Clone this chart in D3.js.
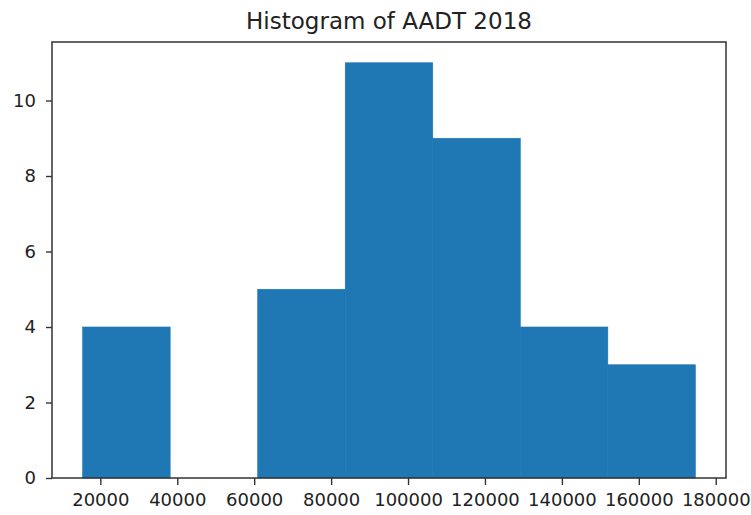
<!DOCTYPE html>
<html>
<head>
<meta charset="utf-8">
<script src="https://cdn.jsdelivr.net/npm/d3@7"></script>
<style>
  html, body { margin: 0; padding: 0; background: #fff; }
  svg { display: block; }
  text { font-family: "DejaVu Sans", sans-serif; fill: #222; }
</style>
</head>
<body>
<svg id="chart" width="751" height="515"></svg>
<script>
// Histogram bins (edges) and the count in each bin
const binEdges = [15400, 38157, 60914, 83671, 106429, 129186, 151943, 174700];
const counts = [4, 0, 5, 11, 9, 4, 3];
const xTicks = [20000, 40000, 60000, 80000, 100000, 120000, 140000, 160000, 180000];
const yTicks = [0, 2, 4, 6, 8, 10];
const title = "Histogram of AADT 2018";

const W = 751, H = 515;
const margin = { top: 42, right: 25, bottom: 37, left: 52 };
const iw = W - margin.left - margin.right;
const ih = H - margin.top - margin.bottom;

const svg = d3.select("#chart");
const g = svg.append("g").attr("transform", `translate(${margin.left},${margin.top})`);

// 5% margins around the data, as the plotting library does by default
const lo = binEdges[0], hi = binEdges[binEdges.length - 1];
const pad = (hi - lo) * 0.05;
const x = d3.scaleLinear().domain([lo - pad, hi + pad]).range([0, iw]);
const y = d3.scaleLinear().domain([0, d3.max(counts) * 1.05]).range([ih, 0]);

const bins = counts.map((c, i) => ({ x0: binEdges[i], x1: binEdges[i + 1], count: c }));

g.selectAll("rect.bar")
  .data(bins.filter(d => d.count > 0))
  .join("rect")
  .attr("class", "bar")
  .attr("x", d => x(d.x0))
  .attr("width", d => x(d.x1) - x(d.x0))
  .attr("y", d => y(d.count))
  .attr("height", d => y(0) - y(d.count))
  .attr("fill", "#1f77b4")
  .attr("stroke", "#1f77b4")
  .attr("stroke-width", 0.6);

// Axes
const xAxis = d3.axisBottom(x).tickValues(xTicks).tickFormat(d3.format("d")).tickSize(7).tickPadding(8);
const yAxis = d3.axisLeft(y).tickValues(yTicks).tickFormat(d3.format("d")).tickSize(6).tickPadding(10);

const gx = g.append("g").attr("transform", `translate(0,${ih})`).call(xAxis);
const gy = g.append("g").call(yAxis);

[gx, gy].forEach(a => {
  a.select(".domain").remove();
  a.selectAll(".tick line").attr("stroke", "#333").attr("stroke-width", 1.4);
  a.selectAll(".tick text").attr("font-size", 18).attr("fill", "#222")
    .style("font-family", "'DejaVu Sans', sans-serif");
});

// Frame around the plot area
g.append("rect")
  .attr("x", 0).attr("y", 0).attr("width", iw).attr("height", ih)
  .attr("fill", "none").attr("stroke", "#333").attr("stroke-width", 1.5);

// Title
svg.append("text")
  .attr("x", margin.left + iw / 2)
  .attr("y", 29)
  .attr("text-anchor", "middle")
  .attr("font-size", 23)
  .text(title);
</script>
</body>
</html>
